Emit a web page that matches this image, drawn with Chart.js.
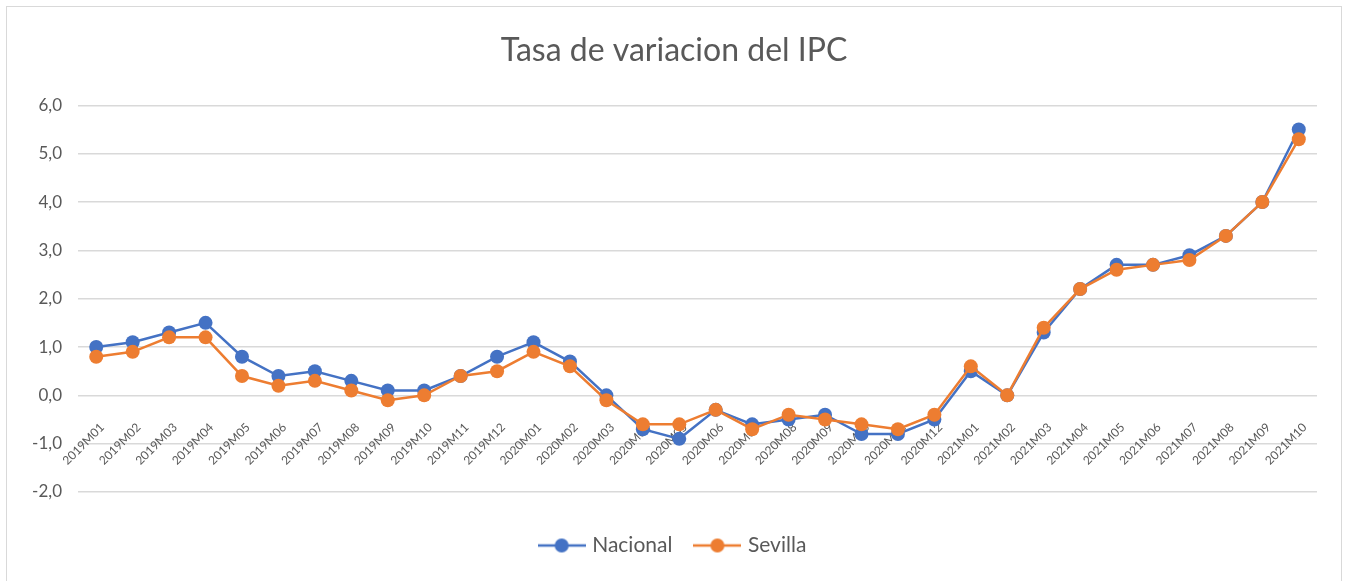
<!DOCTYPE html>
<html>
<head>
<meta charset="utf-8">
<script src="https://cdn.jsdelivr.net/npm/chart.js@4/dist/chart.umd.min.js"></script>
<style>
  body { margin: 0; background: #fff; }
  #box { width: 1348px; height: 581px; }
</style>
</head>
<body>
<div id="box"><canvas id="ipcChart" width="1348" height="581"></canvas></div>
<script>
const months = [
  "2019M01", "2019M02", "2019M03", "2019M04", "2019M05", "2019M06", "2019M07", "2019M08", "2019M09", "2019M10", "2019M11", "2019M12",
  "2020M01", "2020M02", "2020M03", "2020M04", "2020M05", "2020M06", "2020M07", "2020M08", "2020M09", "2020M10", "2020M11", "2020M12",
  "2021M01", "2021M02", "2021M03", "2021M04", "2021M05", "2021M06", "2021M07", "2021M08", "2021M09", "2021M10"
];
const nacional = [1.0, 1.1, 1.3, 1.5, 0.8, 0.4, 0.5, 0.3, 0.1, 0.1, 0.4, 0.8,
  1.1, 0.7, 0.0, -0.7, -0.9, -0.3, -0.6, -0.5, -0.4, -0.8, -0.8, -0.5,
  0.5, 0.0, 1.3, 2.2, 2.7, 2.7, 2.9, 3.3, 4.0, 5.5];
const sevilla = [0.8, 0.9, 1.2, 1.2, 0.4, 0.2, 0.3, 0.1, -0.1, 0.0, 0.4, 0.5,
  0.9, 0.6, -0.1, -0.6, -0.6, -0.3, -0.7, -0.4, -0.5, -0.6, -0.7, -0.4,
  0.6, 0.0, 1.4, 2.2, 2.6, 2.7, 2.8, 3.3, 4.0, 5.3];
const yMin = -2;
const yMax = 6;

const BLUE = "#4472C4";
const ORANGE = "#ED7D31";
const GREY_TEXT = "#595959";

// little "line with a dot" marker for the legend, like Excel's
function legendMarker(color) {
  const c = document.createElement("canvas");
  c.width = 48;
  c.height = 16;
  const g = c.getContext("2d");
  g.strokeStyle = color;
  g.lineWidth = 2.5;
  g.beginPath();
  g.moveTo(0, 8);
  g.lineTo(48, 8);
  g.stroke();
  g.fillStyle = color;
  g.beginPath();
  g.arc(24, 8, 7, 0, Math.PI * 2);
  g.fill();
  return c;
}

// outer light grey frame
const framePlugin = {
  id: "frame",
  beforeDraw(chart) {
    const ctx = chart.ctx;
    ctx.save();
    ctx.fillStyle = "#fff";
    ctx.fillRect(0, 0, chart.width, chart.height);
    ctx.strokeStyle = "#d9d9d9";
    ctx.lineWidth = 1;
    ctx.strokeRect(6.5, 6.5, chart.width - 13, chart.height);
    ctx.restore();
  }
};

const font = "Lato, 'Open Sans', sans-serif";

new Chart(document.getElementById("ipcChart"), {
  type: "line",
  data: {
    labels: months,
    datasets: [
      {
        label: "Nacional",
        data: nacional,
        borderColor: BLUE,
        backgroundColor: BLUE,
        borderWidth: 2.5,
        pointRadius: 7,
        pointBorderWidth: 0,
        tension: 0,
        order: 1
      },
      {
        label: "Sevilla",
        data: sevilla,
        borderColor: ORANGE,
        backgroundColor: ORANGE,
        borderWidth: 2.5,
        pointRadius: 7,
        pointBorderWidth: 0,
        tension: 0,
        order: 0   // drawn over Nacional, as in the original
      }
    ]
  },
  options: {
    responsive: false,
    animation: false,
    layout: {
      padding: { left: 0, right: 0, top: 0, bottom: 15 }
    },
    scales: {
      x: {
        position: { y: 0 },
        offset: true,
        grid: { display: false },
        border: { display: false },
        ticks: {
          color: GREY_TEXT,
          font: { family: font, size: 12 },
          minRotation: 45,
          maxRotation: 45,
          autoSkip: false,
          padding: 17,
          labelOffset: 6
        }
      },
      y: {
        min: yMin,
        max: yMax,
        afterFit: function (scale) {
          scale.width = 78;
        },
        grid: { color: "#d9d9d9", lineWidth: 1.5, drawTicks: false },
        border: { display: false },
        ticks: {
          stepSize: 1,
          padding: 16,
          color: GREY_TEXT,
          font: { family: font, size: 17 },
          callback: function (value) {
            return value.toFixed(1).replace(".", ",");
          }
        }
      },
      // empty right axis, only keeps a margin so title and legend stay centred on the page
      yRight: {
        position: "right",
        min: yMin,
        max: yMax,
        grid: { display: false },
        border: { display: false },
        ticks: { display: false },
        afterFit: function (scale) {
          scale.width = 31;
        }
      }
    },
    plugins: {
      title: {
        display: true,
        text: "Tasa de variacion del IPC",
        color: GREY_TEXT,
        font: { family: font, size: 32, weight: "normal" },
        padding: { top: 31, bottom: 36 }
      },
      legend: {
        position: "bottom",
        title: {
          display: true,
          text: " ",
          font: { size: 10 },
          padding: { top: 0, bottom: 6 }
        },
        labels: {
          usePointStyle: true,
          pointStyleWidth: 40,
          padding: 25,
          color: GREY_TEXT,
          font: { family: font, size: 21 },
          generateLabels: function (chart) {
            return chart.data.datasets.map(function (ds, i) {
              return {
                text: ds.label,
                pointStyle: legendMarker(ds.borderColor),
                fontColor: GREY_TEXT,
                lineWidth: 0,
                strokeStyle: "transparent",
                fillStyle: ds.borderColor,
                datasetIndex: i
              };
            });
          }
        }
      },
      tooltip: { enabled: true }
    }
  },
  plugins: [framePlugin]
});
</script>
</body>
</html>
